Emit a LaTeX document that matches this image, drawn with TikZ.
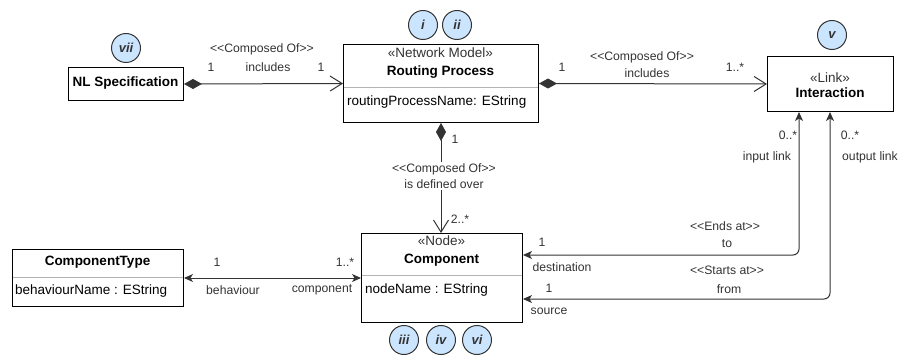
\documentclass[tikz,border=0pt]{standalone}
\usepackage{fontspec}
\setmainfont{Liberation Sans}
\usetikzlibrary{arrows.meta}
\definecolor{linecol}{HTML}{333333}
\definecolor{txtcol}{HTML}{333333}
\definecolor{sepcol}{HTML}{B3B3B3}
\definecolor{badgefill}{HTML}{CCE5FF}
\begin{document}
\begin{tikzpicture}[x=1pt,y=-1pt,
  box/.style={draw=black, line width=1pt, fill=white, inner sep=0pt, anchor=north west},
  boxtxt/.style={font=\fontsize{13.5}{16}\selectfont, text=black, inner sep=0pt},
  boxbold/.style={boxtxt, font=\fontsize{13.5}{16}\selectfont\bfseries},
  lbl/.style={font=\fontsize{12.2}{16}\selectfont, text=txtcol, inner sep=1pt, align=center},
  badge/.style={circle, draw=linecol, fill=badgefill, minimum size=29pt, inner sep=0pt, line width=1pt,
    font=\fontsize{13}{15}\selectfont\bfseries\itshape, text=txtcol},
  sep/.style={draw=sepcol, line width=0.9pt},
  compo/.style={draw=linecol, line width=1pt,
    {Diamond[length=18pt,width=10pt]}-{Straight Barb[length=12pt,width=15pt]}},
  assoc/.style={draw=linecol, line width=1pt,
    {Stealth[length=9pt,width=8pt,inset=2.5pt]}-{Stealth[length=9pt,width=8pt,inset=2.5pt]}}
]
\useasboundingbox (0,0) rectangle (901,355);

% boxes
\node[box, minimum width=115pt, minimum height=33pt] (nl) at (68,67) {};
\node[boxbold] (nlt) at (125.5,83.5) {NL Specification};

\node[box, minimum width=195pt, minimum height=78pt] (rp) at (343,44) {};
\node[boxtxt, text=txtcol] (rps) at (440.5,53) {«Network Model»};
\node[boxbold] (rpt) at (440.5,72) {Routing Process};
\draw[sep] (343.5,87) -- (537.5,87);
\node[boxtxt, anchor=west] (rpa) at (347,102) {routingProcessName: EString};

\node[box, minimum width=126pt, minimum height=55pt] (int) at (767,56) {};
\node[boxtxt, text=txtcol] (ints) at (830,78) {«Link»};
\node[boxbold] (intt) at (830,93) {Interaction};

\node[box, minimum width=161pt, minimum height=89pt] (comp) at (361,233) {};
\node[boxtxt, text=txtcol] (comps) at (441.5,241) {«Node»};
\node[boxbold] (compt) at (441.5,260) {Component};
\draw[sep] (361.5,275) -- (521.5,275);
\node[boxtxt, anchor=west] (compa) at (365,290) {nodeName : EString};

\node[box, minimum width=171pt, minimum height=57pt] (ct) at (12,249) {};
\node[boxbold] (ctt) at (97.5,262) {ComponentType};
\draw[sep] (12.5,277) -- (182.5,277);
\node[boxtxt, anchor=west] (cta) at (15,291.5) {behaviourName : EString};

% badges
\node[badge] (b7) at (126,48) {vii};
\node[badge] (b1) at (423,25) {i};
\node[badge] (b2) at (457,25) {ii};
\node[badge] (b5) at (832,35) {v};
\node[badge] (b3) at (404,340) {iii};
\node[badge] (b4) at (441,340) {iv};
\node[badge] (b6) at (477,340) {vi};

% connectors
\draw[compo] (nl.east) -- (rp.west);
\draw[compo] (rp.east) -- (int.west);
\draw[compo] (rp.south) -- (rp.south |- comp.north);
\draw[assoc] (ct.east) -- (comp.west);
\coordinate (dcorner) at (799,255);
\coordinate (scorner) at (830,299);
\draw[assoc, rounded corners=6pt] (comp.east |- dcorner) -- (dcorner) -- (dcorner |- int.south);
\draw[assoc, rounded corners=6pt] (comp.east |- scorner) -- (scorner) -- (scorner |- int.south);

% labels NL -> RP
\node[lbl] (l1) at (262,49) {<{}<Composed Of>{}>};
\node[lbl] (l2) at (268,67) {includes};
\node[lbl] (l3) at (211,67) {1};
\node[lbl] (l4) at (321,67) {1};
% labels RP -> Int
\node[lbl] (l5) at (642,57) {<{}<Composed Of>{}>};
\node[lbl] (l6) at (647,73) {includes};
\node[lbl] (l7) at (562,67) {1};
\node[lbl] (l8) at (735,67) {1..*};
% vertical
\node[lbl] (l9) at (455,139) {1};
\node[lbl, fill=white, inner sep=2pt] (l10) at (444,176) {<{}<Composed Of>{}>\\is defined over};
\node[lbl] (l11) at (460,219) {2..*};
% CT <-> Comp
\node[lbl] (l12) at (217,262) {1};
\node[lbl] (l13) at (345,262) {1..*};
\node[lbl] (l14) at (233,290) {behaviour};
\node[lbl] (l15) at (322,290) {component};
% destination / source
\node[lbl] (l16) at (542,242) {1};
\node[lbl] (l17) at (562,267) {destination};
\node[lbl] (l18) at (725,226) {<{}<Ends at>{}>};
\node[lbl] (l19) at (727,244) {to};
\node[lbl] (l20) at (727,270) {<{}<Starts at>{}>};
\node[lbl] (l21) at (729,289) {from};
\node[lbl] (l22) at (549,288) {1};
\node[lbl] (l23) at (549,311) {source};
% interaction ends
\node[lbl] (l24) at (788,135) {0..*};
\node[lbl] (l25) at (767,157) {input link};
\node[lbl] (l26) at (850,135) {0..*};
\node[lbl] (l27) at (870,157) {output link};
\end{tikzpicture}
\end{document}
